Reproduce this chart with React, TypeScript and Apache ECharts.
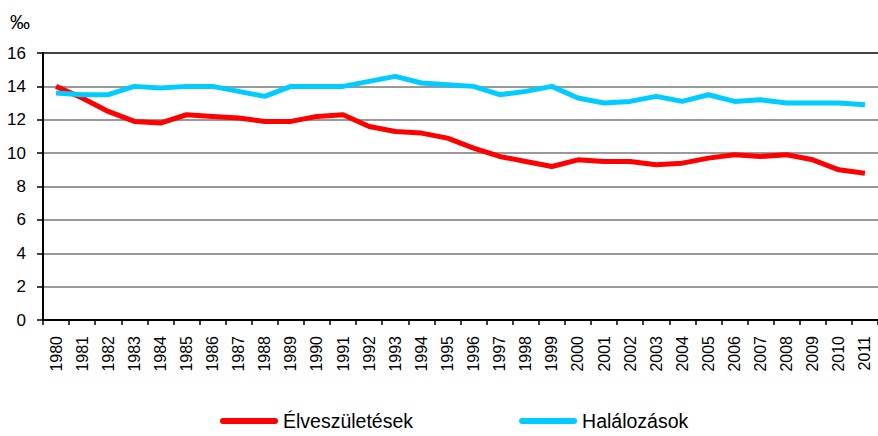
import React, { useEffect, useRef } from "react";
import * as echarts from "echarts";

const years = [
  "1980", "1981", "1982", "1983", "1984", "1985", "1986", "1987", "1988", "1989",
  "1990", "1991", "1992", "1993", "1994", "1995", "1996", "1997", "1998", "1999",
  "2000", "2001", "2002", "2003", "2004", "2005", "2006", "2007", "2008", "2009",
  "2010", "2011",
];

const births = [
  14.0, 13.3, 12.5, 11.9, 11.8, 12.3, 12.2, 12.1, 11.9, 11.9,
  12.2, 12.3, 11.6, 11.3, 11.2, 10.9, 10.3, 9.8, 9.5, 9.2,
  9.6, 9.5, 9.5, 9.3, 9.4, 9.7, 9.9, 9.8, 9.9, 9.6,
  9.0, 8.8,
];

const deaths = [
  13.6, 13.5, 13.5, 14.0, 13.9, 14.0, 14.0, 13.7, 13.4, 14.0,
  14.0, 14.0, 14.3, 14.6, 14.2, 14.1, 14.0, 13.5, 13.7, 14.0,
  13.3, 13.0, 13.1, 13.4, 13.1, 13.5, 13.1, 13.2, 13.0, 13.0,
  13.0, 12.9,
];

const seriesNames = ["Élveszületések", "Halálozások"];
const unitLabel = "‰";

const FONT = "'Liberation Sans', Arial, sans-serif";

export default function App() {
  const ref = useRef<HTMLDivElement>(null);

  useEffect(() => {
    if (!ref.current) return;
    const chart = echarts.init(ref.current, undefined, { renderer: "svg" });
    const legendIcon = "path://M3,0 L55,0 A3,3 0 0 1 55,6 L3,6 A3,3 0 0 1 3,0 Z";
    chart.setOption({
      animation: false,
      backgroundColor: "#ffffff",
      textStyle: { fontFamily: FONT },
      graphic: [
        {
          type: "text",
          left: 10,
          top: 12,
          style: { text: unitLabel, fontSize: 20, fontFamily: FONT, fill: "#000" },
        },
      ],
      legend: {
        left: 215,
        top: 406,
        itemWidth: 58,
        itemHeight: 6,
        itemGap: 106,
        textStyle: { fontSize: 19.5, color: "#000", fontFamily: FONT, lineHeight: 20 },
        data: [
          { name: seriesNames[0], icon: legendIcon },
          { name: seriesNames[1], icon: legendIcon },
        ],
      },
      grid: { left: 43, top: 53, width: 847, height: 267 },
      xAxis: {
        type: "category",
        data: years,
        boundaryGap: true,
        axisLine: { lineStyle: { color: "#000", width: 2 } },
        axisTick: { show: true, length: 5, lineStyle: { color: "#000", width: 1.5 } },
        axisLabel: {
          rotate: 90,
          interval: 0,
          margin: 16,
          fontSize: 16,
          color: "#000",
          fontFamily: FONT,
        },
        splitLine: { show: false },
      },
      yAxis: {
        type: "value",
        min: 0,
        max: 16,
        interval: 2,
        axisLine: { show: true, lineStyle: { color: "#000", width: 2 } },
        axisTick: { show: true, length: 6, lineStyle: { color: "#000", width: 1.5 } },
        axisLabel: { margin: 17, fontSize: 17, color: "#000", fontFamily: FONT },
        splitLine: {
          lineStyle: {
            color: ["#999", "#999", "#999", "#999", "#999", "#999", "#999", "#999", "#444"],
            width: 2,
          },
        },
      },
      series: [
        {
          name: seriesNames[0],
          type: "line",
          data: births,
          symbol: "none",
          lineStyle: { color: "#ff0000", width: 5 },
          itemStyle: { color: "#ff0000" },
        },
        {
          name: seriesNames[1],
          type: "line",
          data: deaths,
          symbol: "none",
          lineStyle: { color: "#00ccff", width: 5 },
          itemStyle: { color: "#00ccff" },
        },
      ],
    });
    return () => chart.dispose();
  }, []);

  return (
    <div
      ref={ref}
      style={{ position: "absolute", left: 0, top: 0, width: 878, height: 436 }}
    />
  );
}
